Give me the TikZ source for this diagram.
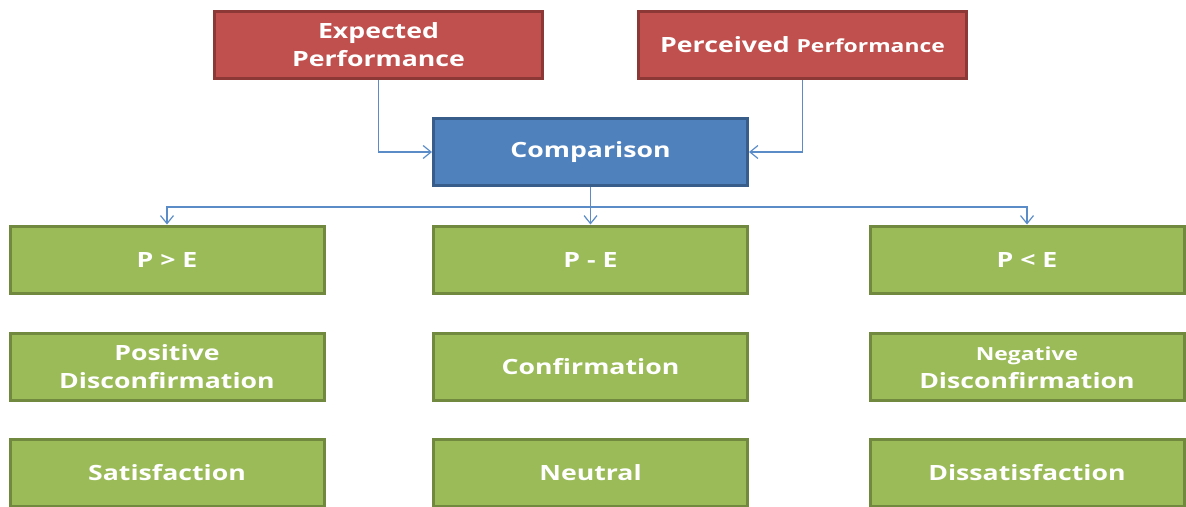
\documentclass[tikz,border=0pt]{standalone}
\usepackage{fontspec}
\setmainfont{Open Sans}
\usetikzlibrary{arrows.meta}
\definecolor{redfill}{HTML}{C0504D}
\definecolor{redline}{HTML}{8C3836}
\definecolor{bluefill}{HTML}{4F81BD}
\definecolor{blueline}{HTML}{385D8A}
\definecolor{greenfill}{HTML}{9BBB59}
\definecolor{greenline}{HTML}{71893F}
\definecolor{linkcol}{HTML}{5B8CC8}
% fixed-height strut so every line sits at the same place
\newcommand{\ls}{\rule[-1pt]{0pt}{17pt}}
% wide bold label; lines are separated by \cr
\newcommand{\wlabel}[1]{\scalebox{1.27}[1]{\fontsize{21}{28}\selectfont\bfseries
  \vbox{\baselineskip=28pt\lineskip=0pt\lineskiplimit=-100pt
  \halign{\hfil\ls##\hfil\cr#1\crcr}}}}
\newcommand{\minor}{\fontsize{18}{22}\selectfont}
\tikzset{
  box/.style={rectangle, line width=3pt, text=white, inner sep=0pt, anchor=center},
  redbox/.style={box, fill=redfill, draw=redline, minimum width=328pt, minimum height=67pt},
  bluebox/.style={box, fill=bluefill, draw=blueline, minimum width=314pt, minimum height=67pt},
  greenbox/.style={box, fill=greenfill, draw=greenline, minimum width=314pt, minimum height=67pt},
  link/.style={draw=linkcol, line width=1.2pt, -{Straight Barb[length=8pt,width=13pt,line width=1.2pt]}}
}
\begin{document}
\begin{tikzpicture}[x=1pt,y=-1pt]
\useasboundingbox (0,0) rectangle (1186,506);
\begin{scope}
\clip (0,0) rectangle (1186,506);
% inputs
\node[redbox] (exp) at (378.5,45) {\wlabel{Expected\cr Performance}};
\node[redbox] (per) at (802.5,45) {\wlabel{Perceived {\minor Performance}}};
% comparison
\node[bluebox] (cmp) at (590.5,152) {\wlabel{Comparison}};
% outcome columns
\node[greenbox] (l1) at (167,259.5) {\wlabel{P > E}};
\node[greenbox] (m1) at (590.5,259.5) {\wlabel{P - E}};
\node[greenbox] (r1) at (1027,259.5) {\wlabel{P < E}};
\node[greenbox] (l2) at (167,366.5) {\wlabel{Positive\cr Disconfirmation}};
\node[greenbox] (m2) at (590.5,366.5) {\wlabel{Confirmation}};
\node[greenbox] (r2) at (1027,366.5) {\wlabel{{\minor Negative}\cr Disconfirmation}};
\node[greenbox] (l3) at (167,473) {\wlabel{Satisfaction}};
\node[greenbox] (m3) at (590.5,473) {\wlabel{Neutral}};
\node[greenbox] (r3) at (1027,473) {\wlabel{Dissatisfaction}};
% connectors
\draw[link] (exp.south) |- (cmp.west);
\draw[link] (per.south) |- (cmp.east);
\coordinate (split) at ([yshift=-20pt]cmp.south);
\draw[link] (cmp.south) -- (m1.north);
\draw[link] (split) -| (l1.north);
\draw[link] (split) -| (r1.north);
\end{scope}
\end{tikzpicture}
\end{document}
